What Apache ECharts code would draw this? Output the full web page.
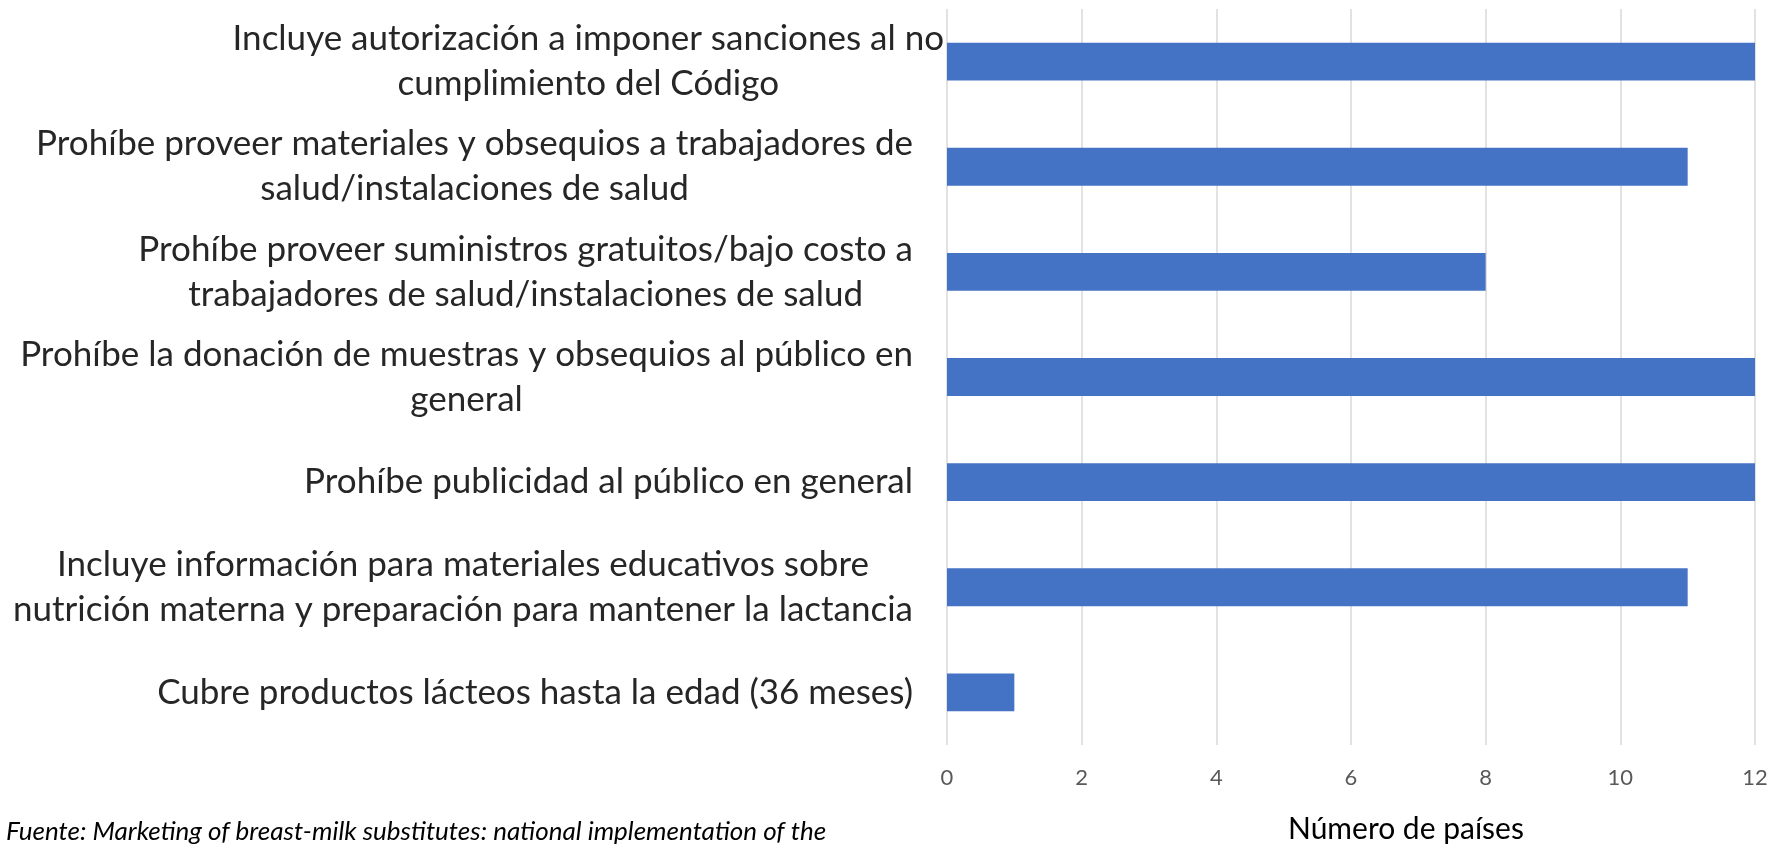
<!DOCTYPE html>
<html>
<head>
<meta charset="utf-8">
<script src="https://cdn.jsdelivr.net/npm/echarts@6/dist/echarts.min.js"></script>
<style>
  html, body { margin: 0; padding: 0; background: #fff; }
  #chart { width: 1782px; height: 845px; }
</style>
</head>
<body>
<div id="chart"></div>
<script>
// categorías (de arriba a abajo)
const categories = [
  'Incluye autorización a imponer sanciones al no\ncumplimiento del Código',
  'Prohíbe proveer materiales y obsequios a trabajadores de\nsalud/instalaciones de salud',
  'Prohíbe proveer suministros gratuitos/bajo costo a\ntrabajadores de salud/instalaciones de salud',
  'Prohíbe la donación de muestras y obsequios al público en\ngeneral',
  'Prohíbe publicidad al público en general',
  'Incluye información para materiales educativos sobre\nnutrición materna y preparación para mantener la lactancia',
  'Cubre productos lácteos hasta la edad (36 meses)'
]
// número de países
const values = [12, 11, 8, 12, 12, 11, 1]
const xTicks = [0, 2, 4, 6, 8, 10, 12]

const axisTitle = 'Número de países'
const sourceNote = 'Fuente: Marketing of breast-milk substitutes: national implementation of the'

const chart = echarts.init(document.getElementById('chart'))

// la primera etiqueta llega casi hasta el eje, como en el original
const catData = categories.map((name, i) => i === 0
  ? { value: name, textStyle: { padding: [0, 0, 0, 0] } }
  : name)

const option = {
  animation: false,
  backgroundColor: '#fff',
  textStyle: { fontFamily: 'Lato' },
  grid: {
    left: 947,
    right: 27,
    top: 9,
    bottom: 100,
    containLabel: false
  },
  xAxis: {
    type: 'value',
    min: xTicks[0],
    max: xTicks[xTicks.length - 1],
    interval: 2,
    axisLine: { show: false },
    axisTick: { show: false },
    axisLabel: {
      color: '#595959',
      fontSize: 22,
      margin: 22,
      fontFamily: 'Lato'
    },
    splitLine: { lineStyle: { color: '#d9d9d9', width: 1.5 } }
  },
  yAxis: {
    type: 'category',
    data: catData,
    inverse: true,
    axisLine: { show: false },
    axisTick: { show: false },
    axisLabel: {
      color: '#262626',
      fontSize: 35,
      lineHeight: 45,
      align: 'right',
      margin: 3,
      padding: [0, 31, 0, 0],
      fontFamily: 'Lato',
      formatter: (v) => v.split('\n').map(l => '{c|' + l + '}').join('\n'),
      rich: {
        c: { align: 'center', fontSize: 35, lineHeight: 45, color: '#262626', fontFamily: 'Lato' }
      }
    }
  },
  series: [{
    type: 'bar',
    data: values,
    barWidth: '36%',
    itemStyle: { color: '#4472c4' }
  }],
  graphic: [
    {
      type: 'text',
      x: 1288,
      y: 829,
      style: { text: axisTitle, fontSize: 30, fill: '#000', fontFamily: 'Lato', verticalAlign: 'middle' }
    },
    {
      type: 'text',
      x: 6,
      y: 832,
      style: { text: sourceNote, fontSize: 26, fill: '#000', fontStyle: 'italic', fontFamily: 'Lato', verticalAlign: 'middle' }
    }
  ]
}

chart.setOption(option)
</script>
</body>
</html>
